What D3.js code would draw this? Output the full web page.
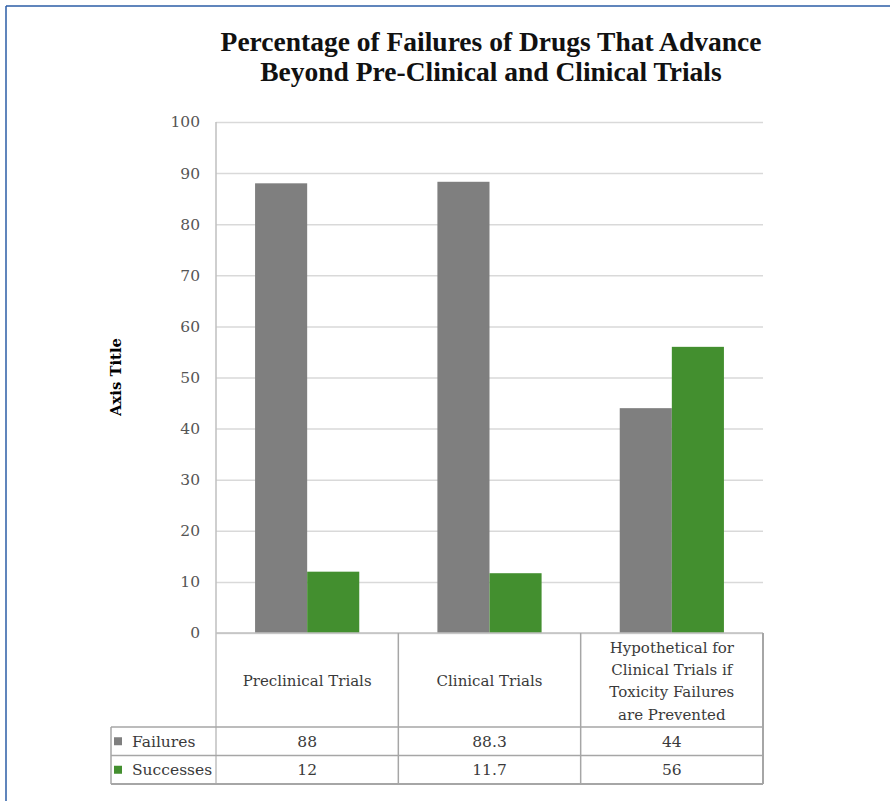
<!DOCTYPE html>
<html><head><meta charset="utf-8">
<script src="https://cdn.jsdelivr.net/npm/d3@7"></script>
<style>body{margin:0;background:#fff}svg{display:block}</style>
</head><body><svg id="c" width="890" height="801"></svg>
<script>
const categories = ["Preclinical Trials", "Clinical Trials", "Hypothetical for Clinical Trials if Toxicity Failures are Prevented"];
const categoryLines = [["Preclinical Trials"], ["Clinical Trials"], ["Hypothetical for", "Clinical Trials if", "Toxicity Failures", "are Prevented"]];
const seriesNames = ["Failures", "Successes"];
const failures = [88, 88.3, 44];
const successes = [12, 11.7, 56];
const tableLabels = [["88", "88.3", "44"], ["12", "11.7", "56"]];
const yTicks = [0, 10, 20, 30, 40, 50, 60, 70, 80, 90, 100];
const titleLines = ["Percentage of Failures of Drugs That Advance", "Beyond Pre-Clinical and Clinical Trials"];
const axisTitle = "Axis Title";

const colors = ["#7f7f7f", "#438f2f"];
const series = [failures, successes];
const svg = d3.select("#c");
const small = "'DejaVu Serif', serif";

// outer frame (top and left)
svg.append("line").attr("x1", 6).attr("y1", 6).attr("x2", 890).attr("y2", 6).attr("stroke", "#2b5ca6").attr("stroke-width", 1.5);
svg.append("line").attr("x1", 6).attr("y1", 6).attr("x2", 6).attr("y2", 801).attr("stroke", "#2b5ca6").attr("stroke-width", 1.5);

const L = 216, R = 763, T = 122, B = 633;
const y = d3.scaleLinear().domain([0, 100]).range([B, T]);
const x0 = d3.scaleBand().domain(categories).range([L, R]).paddingInner(0).paddingOuter(0);
const bw = x0.bandwidth();
const x1 = d3.scaleBand().domain(seriesNames).range([bw * 1.5 / 7, bw * 5.5 / 7]).padding(0);

// gridlines
const yAxis = d3.axisLeft(y).tickValues(yTicks).tickSize(-(R - L)).tickPadding(16);
const ga = svg.append("g").attr("transform", `translate(${L},0)`).call(yAxis);
ga.select(".domain").remove();
ga.selectAll(".tick line").attr("stroke", "#d9d9d9").attr("stroke-width", 1.5);
ga.selectAll(".tick text").attr("font-family", small).attr("font-size", 15.5).attr("fill", "#555");

// bars
categories.forEach((c, i) => {
  seriesNames.forEach((s, j) => {
    svg.append("rect")
      .attr("x", x0(c) + x1(s))
      .attr("y", y(series[j][i]))
      .attr("width", x1.bandwidth())
      .attr("height", y(0) - y(series[j][i]))
      .attr("fill", colors[j]);
  });
});

// data table
const rowTop = 727, rowH = 28.5, legL = 111;
const tbl = svg.append("g").attr("stroke", "#a6a6a6").attr("stroke-width", 1.5);
tbl.append("line").attr("x1", L).attr("x2", L).attr("y1", T).attr("y2", rowTop + 2 * rowH).attr("stroke", "#bfbfbf");
tbl.append("line").attr("x1", L).attr("x2", R).attr("y1", B).attr("y2", B).attr("stroke", "#bfbfbf");
categories.forEach((c, i) => {
  tbl.append("line").attr("x1", x0(c) + bw).attr("x2", x0(c) + bw).attr("y1", B).attr("y2", rowTop + 2 * rowH).attr("stroke-width", i === 2 ? 2 : 1.5);
});
[0, 1, 2].forEach(k => {
  tbl.append("line").attr("x1", legL).attr("x2", R).attr("y1", rowTop + k * rowH).attr("y2", rowTop + k * rowH).attr("stroke-width", k === 2 ? 2 : 1.5);
});
tbl.append("line").attr("x1", legL).attr("x2", legL).attr("y1", rowTop).attr("y2", rowTop + 2 * rowH);

// category labels
categories.forEach((c, i) => {
  const lines = categoryLines[i];
  const cx = x0(c) + bw / 2, cy = 681, lh = 22.3;
  lines.forEach((t, k) => {
    svg.append("text").attr("x", cx).attr("y", cy + (k - (lines.length - 1) / 2) * lh)
      .attr("dy", "0.35em").attr("text-anchor", "middle")
      .attr("font-family", small).attr("font-size", 15).attr("fill", "#3a3a3a").text(t);
  });
});

// legend rows and values
seriesNames.forEach((s, j) => {
  const cy = rowTop + j * rowH + rowH / 2;
  svg.append("rect").attr("x", 114).attr("y", cy - 4).attr("width", 8).attr("height", 8).attr("fill", colors[j]);
  svg.append("text").attr("x", 132).attr("y", cy).attr("dy", "0.35em")
    .attr("font-family", small).attr("font-size", 15.5).attr("fill", "#3a3a3a").text(s);
  categories.forEach((c, i) => {
    svg.append("text").attr("x", x0(c) + bw / 2).attr("y", cy).attr("dy", "0.35em")
      .attr("text-anchor", "middle").attr("font-family", small).attr("font-size", 15.5).attr("fill", "#3a3a3a")
      .text(tableLabels[j][i]);
  });
});

// axis title
svg.append("text").attr("transform", "translate(116,377) rotate(-90)").attr("text-anchor", "middle").attr("dy", "0.35em")
  .attr("font-family", small).attr("font-weight", "bold").attr("font-size", 14.8).attr("fill", "#000").text(axisTitle);

// title
const tt = svg.append("text").attr("text-anchor", "middle").attr("font-family", "'Liberation Serif', serif")
  .attr("font-weight", "bold").attr("font-size", 27.5).attr("fill", "#111");
tt.append("tspan").attr("x", 491).attr("y", 51).text(titleLines[0]);
tt.append("tspan").attr("x", 491).attr("y", 81).text(titleLines[1]);
</script></body></html>
